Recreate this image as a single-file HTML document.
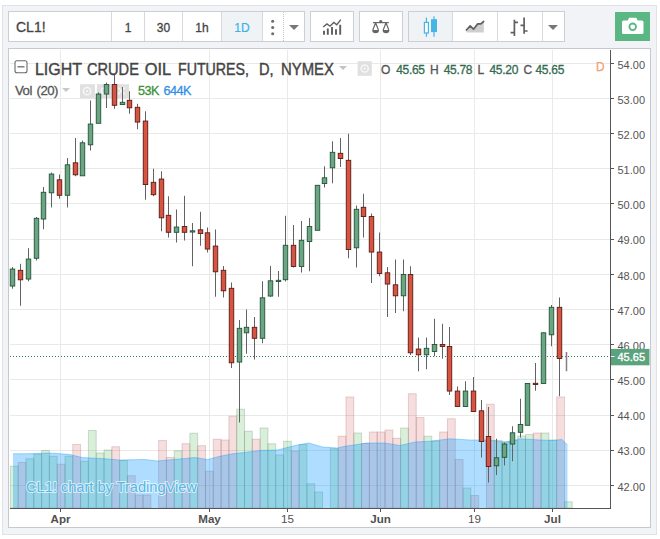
<!DOCTYPE html>
<html><head><meta charset="utf-8"><title>CL1! chart</title>
<style>
html,body{margin:0;padding:0;background:#fff;}
body{width:660px;height:539px;position:relative;overflow:hidden;font-family:"Liberation Sans",Arial,sans-serif;color:#4a4a4a;}
.outer{position:absolute;left:2px;top:5px;width:655px;height:529.6px;background:#f1f3f7;border:1px solid #dfe2e8;box-sizing:border-box;}
.box{position:absolute;box-sizing:border-box;background:#fff;border:1px solid #cdced3;}
.pane{position:absolute;left:8px;top:48px;width:643px;height:480px;box-sizing:border-box;background:#fff;border:1px solid #c8c9ce;}
.chart{position:absolute;left:0;top:0;}
.btn{position:absolute;top:12px;height:29px;line-height:32px;text-align:center;font-size:12px;color:#444;-webkit-text-stroke:0.3px #444}
.sep{position:absolute;top:12px;height:29px;width:1px;background:#d5d8de;}
.act{background:#f0f3f6;}
.ic{position:absolute;}
.tri{position:absolute;width:0;height:0;border-left:5px solid transparent;border-right:5px solid transparent;border-top:5.5px solid #777;}
.t{position:absolute;white-space:nowrap;}
.ttl{position:absolute;white-space:nowrap;transform-origin:0 0;top:59.3px;font-size:16.4px;line-height:20px;color:#444;-webkit-text-stroke:0.42px #444}
.lg{position:absolute;white-space:nowrap;top:61.5px;font-size:12px;line-height:16px;color:#555;letter-spacing:-0.25px;-webkit-text-stroke:0.32px #555}
.lg.v{color:#356c50;-webkit-text-stroke:0.32px #356c50;letter-spacing:-0.3px}
</style></head><body>
<div class="outer"></div>
<!-- toolbar -->
<div class="box" style="left:8px;top:11px;width:297px;height:31px"></div>
<div class="t" style="left:16px;top:18px;font-size:14px;line-height:18px;color:#444;-webkit-text-stroke:0.3px #444">CL1!</div>
<div class="sep" style="left:111px"></div>
<div class="btn" style="left:112px;width:32px">1</div>
<div class="sep" style="left:144px"></div>
<div class="btn" style="left:145px;width:37px">30</div>
<div class="sep" style="left:182px"></div>
<div class="btn" style="left:183px;width:38px">1h</div>
<div class="sep" style="left:221px"></div>
<div class="btn act" style="left:222px;width:40px;color:#3fb1e3;-webkit-text-stroke:0.2px #3fb1e3">1D</div>
<div class="sep" style="left:262px"></div>
<svg class="ic" style="left:269px;top:18px" width="8" height="20" viewBox="0 0 8 20"><g fill="#6e6e6e"><circle cx="3.7" cy="3.3" r="1.55"/><circle cx="3.7" cy="9.5" r="1.55"/><circle cx="3.7" cy="15.8" r="1.55"/></g></svg>
<div class="sep" style="left:283px;background:none;border-left:1px dotted #c4c7cd"></div>
<div class="tri" style="left:288.7px;top:25px"></div>
<div class="box" style="left:310px;top:11px;width:44px;height:31px"></div>
<svg class="ic" style="left:322px;top:18px" width="22" height="19" viewBox="322 18 22 19"><g stroke="#5e5e5e" stroke-width="1.9" fill="none"><path d="M324,34.8V30.7M327.8,34.8V28.5M332,34.8V27M336,34.8V29.2M340.2,34.8V24.7"/><path stroke-width="1.4" d="M323.2,27 L327,24 L330,26.2 L333.8,22.4 L336.8,24.7 L340.8,19.6"/></g></svg>
<div class="box" style="left:359px;top:11px;width:44px;height:31px"></div>
<svg class="ic" style="left:370px;top:18px" width="22" height="19" viewBox="370 18 22 19"><g stroke="#666" stroke-width="1.2" fill="none"><path d="M373,22.6H388.8"/><path d="M375.6,22.8 L372.8,30 M375.6,22.8 L378.4,30 M386,22.8 L383.2,30 M386,22.8 L388.8,30"/><circle cx="380.8" cy="21.6" r="1" fill="#666"/></g><path fill="#666" d="M372.2,30 h6.8 a3.4,3.2 0 0 1 -6.8,0Z M382.6,30 h6.8 a3.4,3.2 0 0 1 -6.8,0Z"/></svg>
<div class="box" style="left:408px;top:11px;width:157px;height:31px"></div>
<div class="btn act" style="left:409px;width:43px"></div>
<svg class="ic" style="left:420px;top:14px" width="22" height="25" viewBox="420 14 22 25"><g stroke="#45b5e6" stroke-width="1.2"><path d="M426.4,17.4V36.8M434,16.3V36.8"/><rect x="424.4" y="22.4" width="4" height="10.6" fill="#fff"/><rect x="431.6" y="19.8" width="4.8" height="11.7" fill="#45b5e6"/></g></svg>
<div class="sep" style="left:452px"></div>
<svg class="ic" style="left:463px;top:18px" width="24" height="17" viewBox="463 18 24 17"><path fill="#cfcfcf" d="M466.4,30 L470.2,25.9 L473.5,29.2 L477.7,23.9 L480.8,23.9 L483.8,21.4 V32.6 H466.4Z"/><path fill="none" stroke="#606060" stroke-width="1.7" stroke-linejoin="round" stroke-linecap="round" d="M466.4,30 L470.2,25.9 L473.5,29.2 L477.7,23.9 L480.8,23.9 L483.6,21.5"/></svg>
<div class="sep" style="left:497px"></div>
<svg class="ic" style="left:508px;top:15px" width="22" height="23" viewBox="508 15 22 23"><g stroke="#606060" stroke-width="1.7" fill="none"><path d="M514.4,19.8V36M510.6,32.6H514.4M514.4,22.4H518M524.1,17.4V33.8M520.5,25.4H524.1M524.1,31H527.6"/></g></svg>
<div class="sep" style="left:542px"></div>
<div class="tri" style="left:547.5px;top:25px"></div>
<div style="position:absolute;left:615px;top:12px;width:35px;height:29px;background:#5ab682"></div>
<svg class="ic" style="left:620px;top:15px" width="26" height="22" viewBox="620 15 26 22"><path fill="#fff" d="M623.5,20.4 h4.2 l1.4,-2.6 h7.2 l1.4,2.6 h4.3 a1.5,1.5 0 0 1 1.5,1.5 v10.6 a1.5,1.5 0 0 1 -1.5,1.5 h-18.5 a1.5,1.5 0 0 1 -1.5,-1.5 v-10.6 a1.5,1.5 0 0 1 1.5,-1.5Z"/><circle cx="632.7" cy="26.8" r="3.3" fill="#fff" stroke="#5ab682" stroke-width="1.8"/></svg>
<!-- chart pane -->
<div class="pane"></div>
<svg class="chart" width="660" height="539" viewBox="0 0 660 539">
<g stroke="#e9e9e9" stroke-width="1" shape-rendering="crispEdges">
<line x1="9.5" y1="485.5" x2="610.5" y2="485.5"/>
<line x1="9.5" y1="450.5" x2="610.5" y2="450.5"/>
<line x1="9.5" y1="415.5" x2="610.5" y2="415.5"/>
<line x1="9.5" y1="379.5" x2="610.5" y2="379.5"/>
<line x1="9.5" y1="344.5" x2="610.5" y2="344.5"/>
<line x1="9.5" y1="309.5" x2="610.5" y2="309.5"/>
<line x1="9.5" y1="274.5" x2="610.5" y2="274.5"/>
<line x1="9.5" y1="239.5" x2="610.5" y2="239.5"/>
<line x1="9.5" y1="203.5" x2="610.5" y2="203.5"/>
<line x1="9.5" y1="168.5" x2="610.5" y2="168.5"/>
<line x1="9.5" y1="133.5" x2="610.5" y2="133.5"/>
<line x1="9.5" y1="98.5" x2="610.5" y2="98.5"/>
<line x1="9.5" y1="63.5" x2="610.5" y2="63.5"/>
<line x1="60.5" y1="49.5" x2="60.5" y2="508.0"/>
<line x1="209.5" y1="49.5" x2="209.5" y2="508.0"/>
<line x1="287.5" y1="49.5" x2="287.5" y2="508.0"/>
<line x1="380.5" y1="49.5" x2="380.5" y2="508.0"/>
<line x1="474.5" y1="49.5" x2="474.5" y2="508.0"/>
<line x1="552.5" y1="49.5" x2="552.5" y2="508.0"/>
</g>
<g fill="#e0e0e0">
<rect x="80" y="84.2" width="15" height="14"/>
<rect x="97" y="84.2" width="15" height="14"/>
<rect x="114" y="84.2" width="15" height="14"/>
<rect x="357.6" y="61.2" width="14.2" height="14.6"/>
</g>
<g fill="none" stroke="#f7f7f7" stroke-width="1.5"><circle cx="87" cy="91.2" r="3.6"/><circle cx="87" cy="91.2" r="1.1" fill="#f7f7f7" stroke="none"/></g>
<g fill="none" stroke="#f7f7f7" stroke-width="1.5"><circle cx="364.7" cy="68.5" r="3.6"/><circle cx="364.7" cy="68.5" r="1.1" fill="#f7f7f7" stroke="none"/></g>
<g stroke="#f6f6f6" stroke-width="1.6" fill="none"><path d="M118,87.5 l7,7 M125,87.5 l-7,7"/><circle cx="104.5" cy="91" r="3"/></g>
<g stroke-width="1">
<rect x="10.35" y="466.25" width="7.80" height="41.75" fill="rgba(80,180,80,0.22)" stroke="rgba(90,140,100,0.28)"/>
<rect x="18.16" y="462.50" width="7.80" height="45.50" fill="rgba(205,60,60,0.17)" stroke="rgba(165,105,105,0.28)"/>
<rect x="25.96" y="458.75" width="7.80" height="49.25" fill="rgba(80,180,80,0.22)" stroke="rgba(90,140,100,0.28)"/>
<rect x="33.77" y="454.25" width="7.80" height="53.75" fill="rgba(80,180,80,0.22)" stroke="rgba(90,140,100,0.28)"/>
<rect x="41.57" y="450.50" width="7.80" height="57.50" fill="rgba(80,180,80,0.22)" stroke="rgba(90,140,100,0.28)"/>
<rect x="49.38" y="456.25" width="7.80" height="51.75" fill="rgba(80,180,80,0.22)" stroke="rgba(90,140,100,0.28)"/>
<rect x="57.18" y="464.25" width="7.80" height="43.75" fill="rgba(205,60,60,0.17)" stroke="rgba(165,105,105,0.28)"/>
<rect x="64.98" y="456.25" width="7.80" height="51.75" fill="rgba(80,180,80,0.22)" stroke="rgba(90,140,100,0.28)"/>
<rect x="72.79" y="444.50" width="7.80" height="63.50" fill="rgba(205,60,60,0.17)" stroke="rgba(165,105,105,0.28)"/>
<rect x="80.59" y="461.25" width="7.80" height="46.75" fill="rgba(80,180,80,0.22)" stroke="rgba(90,140,100,0.28)"/>
<rect x="88.40" y="430.50" width="7.80" height="77.50" fill="rgba(80,180,80,0.22)" stroke="rgba(90,140,100,0.28)"/>
<rect x="96.20" y="453.00" width="7.80" height="55.00" fill="rgba(80,180,80,0.22)" stroke="rgba(90,140,100,0.28)"/>
<rect x="104.01" y="450.00" width="7.80" height="58.00" fill="rgba(80,180,80,0.22)" stroke="rgba(90,140,100,0.28)"/>
<rect x="111.81" y="446.75" width="7.80" height="61.25" fill="rgba(205,60,60,0.17)" stroke="rgba(165,105,105,0.28)"/>
<rect x="119.62" y="460.50" width="7.80" height="47.50" fill="rgba(80,180,80,0.22)" stroke="rgba(90,140,100,0.28)"/>
<rect x="127.42" y="475.75" width="7.80" height="32.25" fill="rgba(205,60,60,0.17)" stroke="rgba(165,105,105,0.28)"/>
<rect x="135.23" y="495.00" width="7.80" height="13.00" fill="rgba(205,60,60,0.17)" stroke="rgba(165,105,105,0.28)"/>
<rect x="143.03" y="495.00" width="7.80" height="13.00" fill="rgba(205,60,60,0.17)" stroke="rgba(165,105,105,0.28)"/>
<rect x="158.64" y="440.50" width="7.80" height="67.50" fill="rgba(205,60,60,0.17)" stroke="rgba(165,105,105,0.28)"/>
<rect x="166.45" y="457.50" width="7.80" height="50.50" fill="rgba(205,60,60,0.17)" stroke="rgba(165,105,105,0.28)"/>
<rect x="174.25" y="450.75" width="7.80" height="57.25" fill="rgba(80,180,80,0.22)" stroke="rgba(90,140,100,0.28)"/>
<rect x="182.06" y="443.75" width="7.80" height="64.25" fill="rgba(205,60,60,0.17)" stroke="rgba(165,105,105,0.28)"/>
<rect x="189.86" y="433.25" width="7.80" height="74.75" fill="rgba(80,180,80,0.22)" stroke="rgba(90,140,100,0.28)"/>
<rect x="197.67" y="445.75" width="7.80" height="62.25" fill="rgba(205,60,60,0.17)" stroke="rgba(165,105,105,0.28)"/>
<rect x="205.47" y="471.25" width="7.80" height="36.75" fill="rgba(205,60,60,0.17)" stroke="rgba(165,105,105,0.28)"/>
<rect x="213.28" y="439.25" width="7.80" height="68.75" fill="rgba(205,60,60,0.17)" stroke="rgba(165,105,105,0.28)"/>
<rect x="221.08" y="440.00" width="7.80" height="68.00" fill="rgba(205,60,60,0.17)" stroke="rgba(165,105,105,0.28)"/>
<rect x="228.89" y="416.25" width="7.80" height="91.75" fill="rgba(205,60,60,0.17)" stroke="rgba(165,105,105,0.28)"/>
<rect x="236.69" y="409.25" width="7.80" height="98.75" fill="rgba(80,180,80,0.22)" stroke="rgba(90,140,100,0.28)"/>
<rect x="244.50" y="431.25" width="7.80" height="76.75" fill="rgba(80,180,80,0.22)" stroke="rgba(90,140,100,0.28)"/>
<rect x="252.30" y="439.25" width="7.80" height="68.75" fill="rgba(205,60,60,0.17)" stroke="rgba(165,105,105,0.28)"/>
<rect x="260.11" y="428.00" width="7.80" height="80.00" fill="rgba(80,180,80,0.22)" stroke="rgba(90,140,100,0.28)"/>
<rect x="267.92" y="443.75" width="7.80" height="64.25" fill="rgba(80,180,80,0.22)" stroke="rgba(90,140,100,0.28)"/>
<rect x="275.72" y="455.00" width="7.80" height="53.00" fill="rgba(80,180,80,0.22)" stroke="rgba(90,140,100,0.28)"/>
<rect x="283.53" y="441.25" width="7.80" height="66.75" fill="rgba(80,180,80,0.22)" stroke="rgba(90,140,100,0.28)"/>
<rect x="291.33" y="451.00" width="7.80" height="57.00" fill="rgba(205,60,60,0.17)" stroke="rgba(165,105,105,0.28)"/>
<rect x="299.13" y="444.50" width="7.80" height="63.50" fill="rgba(80,180,80,0.22)" stroke="rgba(90,140,100,0.28)"/>
<rect x="306.94" y="483.75" width="7.80" height="24.25" fill="rgba(80,180,80,0.22)" stroke="rgba(90,140,100,0.28)"/>
<rect x="314.75" y="492.00" width="7.80" height="16.00" fill="rgba(80,180,80,0.22)" stroke="rgba(90,140,100,0.28)"/>
<rect x="330.36" y="448.75" width="7.80" height="59.25" fill="rgba(80,180,80,0.22)" stroke="rgba(90,140,100,0.28)"/>
<rect x="338.16" y="436.25" width="7.80" height="71.75" fill="rgba(205,60,60,0.17)" stroke="rgba(165,105,105,0.28)"/>
<rect x="345.97" y="397.00" width="7.80" height="111.00" fill="rgba(205,60,60,0.17)" stroke="rgba(165,105,105,0.28)"/>
<rect x="353.77" y="433.00" width="7.80" height="75.00" fill="rgba(80,180,80,0.22)" stroke="rgba(90,140,100,0.28)"/>
<rect x="361.57" y="443.50" width="7.80" height="64.50" fill="rgba(205,60,60,0.17)" stroke="rgba(165,105,105,0.28)"/>
<rect x="369.38" y="432.00" width="7.80" height="76.00" fill="rgba(205,60,60,0.17)" stroke="rgba(165,105,105,0.28)"/>
<rect x="377.19" y="432.00" width="7.80" height="76.00" fill="rgba(205,60,60,0.17)" stroke="rgba(165,105,105,0.28)"/>
<rect x="384.99" y="430.00" width="7.80" height="78.00" fill="rgba(205,60,60,0.17)" stroke="rgba(165,105,105,0.28)"/>
<rect x="392.80" y="438.25" width="7.80" height="69.75" fill="rgba(205,60,60,0.17)" stroke="rgba(165,105,105,0.28)"/>
<rect x="400.60" y="428.00" width="7.80" height="80.00" fill="rgba(80,180,80,0.22)" stroke="rgba(90,140,100,0.28)"/>
<rect x="408.41" y="393.75" width="7.80" height="114.25" fill="rgba(205,60,60,0.17)" stroke="rgba(165,105,105,0.28)"/>
<rect x="416.21" y="417.50" width="7.80" height="90.50" fill="rgba(205,60,60,0.17)" stroke="rgba(165,105,105,0.28)"/>
<rect x="424.01" y="436.25" width="7.80" height="71.75" fill="rgba(80,180,80,0.22)" stroke="rgba(90,140,100,0.28)"/>
<rect x="431.82" y="441.00" width="7.80" height="67.00" fill="rgba(80,180,80,0.22)" stroke="rgba(90,140,100,0.28)"/>
<rect x="439.62" y="432.00" width="7.80" height="76.00" fill="rgba(205,60,60,0.17)" stroke="rgba(165,105,105,0.28)"/>
<rect x="447.43" y="418.75" width="7.80" height="89.25" fill="rgba(205,60,60,0.17)" stroke="rgba(165,105,105,0.28)"/>
<rect x="455.24" y="459.50" width="7.80" height="48.50" fill="rgba(205,60,60,0.17)" stroke="rgba(165,105,105,0.28)"/>
<rect x="463.04" y="488.00" width="7.80" height="20.00" fill="rgba(80,180,80,0.22)" stroke="rgba(90,140,100,0.28)"/>
<rect x="470.85" y="495.50" width="7.80" height="12.50" fill="rgba(205,60,60,0.17)" stroke="rgba(165,105,105,0.28)"/>
<rect x="486.45" y="404.25" width="7.80" height="103.75" fill="rgba(205,60,60,0.17)" stroke="rgba(165,105,105,0.28)"/>
<rect x="494.26" y="440.50" width="7.80" height="67.50" fill="rgba(80,180,80,0.22)" stroke="rgba(90,140,100,0.28)"/>
<rect x="502.06" y="441.50" width="7.80" height="66.50" fill="rgba(80,180,80,0.22)" stroke="rgba(90,140,100,0.28)"/>
<rect x="509.87" y="440.50" width="7.80" height="67.50" fill="rgba(80,180,80,0.22)" stroke="rgba(90,140,100,0.28)"/>
<rect x="517.68" y="436.00" width="7.80" height="72.00" fill="rgba(80,180,80,0.22)" stroke="rgba(90,140,100,0.28)"/>
<rect x="525.48" y="434.50" width="7.80" height="73.50" fill="rgba(80,180,80,0.22)" stroke="rgba(90,140,100,0.28)"/>
<rect x="533.28" y="433.00" width="7.80" height="75.00" fill="rgba(205,60,60,0.17)" stroke="rgba(165,105,105,0.28)"/>
<rect x="541.09" y="433.00" width="7.80" height="75.00" fill="rgba(80,180,80,0.22)" stroke="rgba(90,140,100,0.28)"/>
<rect x="548.89" y="440.00" width="7.80" height="68.00" fill="rgba(80,180,80,0.22)" stroke="rgba(90,140,100,0.28)"/>
<rect x="556.70" y="397.00" width="7.80" height="111.00" fill="rgba(205,60,60,0.17)" stroke="rgba(165,105,105,0.28)"/>
<rect x="564.50" y="501.75" width="7.80" height="6.25" fill="rgba(80,180,80,0.22)" stroke="rgba(90,140,100,0.28)"/>
</g>
<polygon points="13,453.75 25,453.75 50,453 70,454.5 82,457.5 105,458.75 120,460 145,459.5 157,461 182,458.75 195,457.5 207.5,459.5 220,456.25 232.5,453.75 245,452.5 260,450.5 277.5,450 295,445.5 308.75,443 322.5,447 337.5,448 345,446.25 367,443 385,443 400,445.5 415,442 430,441.25 450,438.75 470,440 490,440 505,442.5 520,438.75 540,440 552,440.5 562,439.5 567.5,445 567.5,508.0 13,508.0" fill="rgba(4,150,255,0.32)"/>
<polyline points="13,453.75 25,453.75 50,453 70,454.5 82,457.5 105,458.75 120,460 145,459.5 157,461 182,458.75 195,457.5 207.5,459.5 220,456.25 232.5,453.75 245,452.5 260,450.5 277.5,450 295,445.5 308.75,443 322.5,447 337.5,448 345,446.25 367,443 385,443 400,445.5 415,442 430,441.25 450,438.75 470,440 490,440 505,442.5 520,438.75 540,440 552,440.5 562,439.5 567.5,445" fill="none" stroke="rgba(4,150,255,0.35)" stroke-width="1"/>
<line x1="9.5" y1="356.5" x2="610.5" y2="356.5" stroke="#2f7d55" stroke-width="1" stroke-dasharray="1.2,1.8" shape-rendering="crispEdges"/>
<line x1="12.50" y1="267.0" x2="12.50" y2="288.75" stroke="#626264" stroke-width="1"/>
<rect x="10.25" y="269.05" width="4.5" height="17.00" fill="#6ba583" stroke="#225437" stroke-width="0.9"/>
<line x1="20.50" y1="263.75" x2="20.50" y2="305.75" stroke="#626264" stroke-width="1"/>
<rect x="18.25" y="270.30" width="4.5" height="9.50" fill="#d75442" stroke="#5b1a13" stroke-width="0.9"/>
<line x1="28.50" y1="248.25" x2="28.50" y2="281.25" stroke="#626264" stroke-width="1"/>
<rect x="26.25" y="259.05" width="4.5" height="20.00" fill="#6ba583" stroke="#225437" stroke-width="0.9"/>
<line x1="36.50" y1="217.0" x2="36.50" y2="260.5" stroke="#626264" stroke-width="1"/>
<rect x="34.25" y="218.30" width="4.5" height="40.00" fill="#6ba583" stroke="#225437" stroke-width="0.9"/>
<line x1="43.50" y1="187.0" x2="43.50" y2="229.25" stroke="#626264" stroke-width="1"/>
<rect x="41.25" y="192.30" width="4.5" height="26.75" fill="#6ba583" stroke="#225437" stroke-width="0.9"/>
<line x1="51.50" y1="172.5" x2="51.50" y2="207.5" stroke="#626264" stroke-width="1"/>
<rect x="49.25" y="174.05" width="4.5" height="18.75" fill="#6ba583" stroke="#225437" stroke-width="0.9"/>
<line x1="59.50" y1="174.5" x2="59.50" y2="198.75" stroke="#626264" stroke-width="1"/>
<rect x="57.25" y="179.80" width="4.5" height="15.50" fill="#d75442" stroke="#5b1a13" stroke-width="0.9"/>
<line x1="67.50" y1="158.0" x2="67.50" y2="207.5" stroke="#626264" stroke-width="1"/>
<rect x="65.25" y="164.80" width="4.5" height="30.50" fill="#6ba583" stroke="#225437" stroke-width="0.9"/>
<line x1="75.50" y1="138.0" x2="75.50" y2="176.25" stroke="#626264" stroke-width="1"/>
<rect x="73.25" y="162.80" width="4.5" height="12.00" fill="#d75442" stroke="#5b1a13" stroke-width="0.9"/>
<line x1="82.50" y1="140.5" x2="82.50" y2="175.5" stroke="#626264" stroke-width="1"/>
<rect x="80.25" y="142.80" width="4.5" height="33.00" fill="#6ba583" stroke="#225437" stroke-width="0.9"/>
<line x1="90.50" y1="100.5" x2="90.50" y2="150.5" stroke="#626264" stroke-width="1"/>
<rect x="88.25" y="124.05" width="4.5" height="20.75" fill="#6ba583" stroke="#225437" stroke-width="0.9"/>
<line x1="98.50" y1="92.5" x2="98.50" y2="123.0" stroke="#626264" stroke-width="1"/>
<rect x="96.25" y="94.05" width="4.5" height="29.25" fill="#6ba583" stroke="#225437" stroke-width="0.9"/>
<line x1="106.50" y1="82.5" x2="106.50" y2="108.0" stroke="#626264" stroke-width="1"/>
<rect x="104.25" y="84.55" width="4.5" height="9.50" fill="#6ba583" stroke="#225437" stroke-width="0.9"/>
<line x1="114.50" y1="75.0" x2="114.50" y2="108.75" stroke="#626264" stroke-width="1"/>
<rect x="112.25" y="84.55" width="4.5" height="20.75" fill="#d75442" stroke="#5b1a13" stroke-width="0.9"/>
<line x1="122.50" y1="87.0" x2="122.50" y2="104.25" stroke="#626264" stroke-width="1"/>
<rect x="120.25" y="102.30" width="4.5" height="2.25" fill="#6ba583" stroke="#225437" stroke-width="0.9"/>
<line x1="129.50" y1="91.25" x2="129.50" y2="113.75" stroke="#626264" stroke-width="1"/>
<rect x="127.25" y="100.30" width="4.5" height="7.50" fill="#d75442" stroke="#5b1a13" stroke-width="0.9"/>
<line x1="137.50" y1="103.75" x2="137.50" y2="129.25" stroke="#626264" stroke-width="1"/>
<rect x="135.25" y="107.30" width="4.5" height="14.75" fill="#d75442" stroke="#5b1a13" stroke-width="0.9"/>
<line x1="145.50" y1="111.25" x2="145.50" y2="199.75" stroke="#626264" stroke-width="1"/>
<rect x="143.25" y="121.05" width="4.5" height="63.50" fill="#d75442" stroke="#5b1a13" stroke-width="0.9"/>
<line x1="153.50" y1="168.75" x2="153.50" y2="196.25" stroke="#626264" stroke-width="1"/>
<rect x="151.25" y="182.30" width="4.5" height="12.40" fill="#d75442" stroke="#5b1a13" stroke-width="0.9"/>
<line x1="161.50" y1="171.25" x2="161.50" y2="231.25" stroke="#626264" stroke-width="1"/>
<rect x="159.25" y="179.05" width="4.5" height="38.75" fill="#d75442" stroke="#5b1a13" stroke-width="0.9"/>
<line x1="168.50" y1="196.25" x2="168.50" y2="237.5" stroke="#626264" stroke-width="1"/>
<rect x="166.25" y="215.30" width="4.5" height="17.00" fill="#d75442" stroke="#5b1a13" stroke-width="0.9"/>
<line x1="176.50" y1="209.5" x2="176.50" y2="242.5" stroke="#626264" stroke-width="1"/>
<rect x="174.25" y="227.05" width="4.5" height="5.25" fill="#6ba583" stroke="#225437" stroke-width="0.9"/>
<line x1="184.50" y1="195.75" x2="184.50" y2="240.5" stroke="#626264" stroke-width="1"/>
<rect x="182.25" y="226.55" width="4.5" height="5.75" fill="#d75442" stroke="#5b1a13" stroke-width="0.9"/>
<line x1="192.50" y1="223.0" x2="192.50" y2="266.25" stroke="#626264" stroke-width="1"/>
<rect x="190.25" y="230.80" width="4.5" height="1.25" fill="#6ba583" stroke="#225437" stroke-width="0.9"/>
<line x1="200.50" y1="211.75" x2="200.50" y2="245.75" stroke="#626264" stroke-width="1"/>
<rect x="198.25" y="229.80" width="4.5" height="3.75" fill="#d75442" stroke="#5b1a13" stroke-width="0.9"/>
<line x1="207.50" y1="227.5" x2="207.50" y2="252.5" stroke="#626264" stroke-width="1"/>
<rect x="205.25" y="232.80" width="4.5" height="16.25" fill="#d75442" stroke="#5b1a13" stroke-width="0.9"/>
<line x1="215.50" y1="229.5" x2="215.50" y2="296.75" stroke="#626264" stroke-width="1"/>
<rect x="213.25" y="246.05" width="4.5" height="25.75" fill="#d75442" stroke="#5b1a13" stroke-width="0.9"/>
<line x1="223.50" y1="266.0" x2="223.50" y2="297.5" stroke="#626264" stroke-width="1"/>
<rect x="221.25" y="270.30" width="4.5" height="20.50" fill="#d75442" stroke="#5b1a13" stroke-width="0.9"/>
<line x1="231.50" y1="282.5" x2="231.50" y2="368.0" stroke="#626264" stroke-width="1"/>
<rect x="229.25" y="288.30" width="4.5" height="74.50" fill="#d75442" stroke="#5b1a13" stroke-width="0.9"/>
<line x1="239.50" y1="320.0" x2="239.50" y2="422.5" stroke="#626264" stroke-width="1"/>
<rect x="237.25" y="328.30" width="4.5" height="33.75" fill="#6ba583" stroke="#225437" stroke-width="0.9"/>
<line x1="246.50" y1="309.5" x2="246.50" y2="353.75" stroke="#626264" stroke-width="1"/>
<rect x="244.25" y="327.30" width="4.5" height="5.50" fill="#6ba583" stroke="#225437" stroke-width="0.9"/>
<line x1="254.50" y1="317.0" x2="254.50" y2="359.5" stroke="#626264" stroke-width="1"/>
<rect x="252.25" y="327.30" width="4.5" height="11.00" fill="#d75442" stroke="#5b1a13" stroke-width="0.9"/>
<line x1="262.50" y1="281.25" x2="262.50" y2="343.25" stroke="#626264" stroke-width="1"/>
<rect x="260.25" y="297.80" width="4.5" height="40.50" fill="#6ba583" stroke="#225437" stroke-width="0.9"/>
<line x1="270.50" y1="266.0" x2="270.50" y2="296.75" stroke="#626264" stroke-width="1"/>
<rect x="268.25" y="280.80" width="4.5" height="15.25" fill="#6ba583" stroke="#225437" stroke-width="0.9"/>
<line x1="278.50" y1="271.0" x2="278.50" y2="296.75" stroke="#626264" stroke-width="1"/>
<rect x="276.25" y="280.30" width="4.5" height="1.25" fill="#6ba583" stroke="#225437" stroke-width="0.9"/>
<line x1="285.50" y1="215.75" x2="285.50" y2="281.5" stroke="#626264" stroke-width="1"/>
<rect x="283.25" y="245.30" width="4.5" height="34.40" fill="#6ba583" stroke="#225437" stroke-width="0.9"/>
<line x1="293.50" y1="225.0" x2="293.50" y2="267.5" stroke="#626264" stroke-width="1"/>
<rect x="291.25" y="245.30" width="4.5" height="21.25" fill="#d75442" stroke="#5b1a13" stroke-width="0.9"/>
<line x1="301.50" y1="221.0" x2="301.50" y2="272.5" stroke="#626264" stroke-width="1"/>
<rect x="299.25" y="240.30" width="4.5" height="26.25" fill="#6ba583" stroke="#225437" stroke-width="0.9"/>
<line x1="309.50" y1="218.0" x2="309.50" y2="271.25" stroke="#626264" stroke-width="1"/>
<rect x="307.25" y="226.55" width="4.5" height="15.00" fill="#6ba583" stroke="#225437" stroke-width="0.9"/>
<line x1="317.50" y1="185.0" x2="317.50" y2="230.0" stroke="#626264" stroke-width="1"/>
<rect x="315.25" y="185.30" width="4.5" height="45.00" fill="#6ba583" stroke="#225437" stroke-width="0.9"/>
<line x1="324.50" y1="166.25" x2="324.50" y2="187.5" stroke="#626264" stroke-width="1"/>
<rect x="322.25" y="177.80" width="4.5" height="5.75" fill="#6ba583" stroke="#225437" stroke-width="0.9"/>
<line x1="332.50" y1="141.25" x2="332.50" y2="183.25" stroke="#626264" stroke-width="1"/>
<rect x="330.25" y="152.30" width="4.5" height="15.50" fill="#6ba583" stroke="#225437" stroke-width="0.9"/>
<line x1="340.50" y1="138.0" x2="340.50" y2="167.0" stroke="#626264" stroke-width="1"/>
<rect x="338.25" y="153.30" width="4.5" height="5.25" fill="#d75442" stroke="#5b1a13" stroke-width="0.9"/>
<line x1="348.50" y1="133.75" x2="348.50" y2="258.25" stroke="#626264" stroke-width="1"/>
<rect x="346.25" y="160.30" width="4.5" height="89.25" fill="#d75442" stroke="#5b1a13" stroke-width="0.9"/>
<line x1="356.50" y1="205.5" x2="356.50" y2="267.5" stroke="#626264" stroke-width="1"/>
<rect x="354.25" y="209.30" width="4.5" height="38.50" fill="#6ba583" stroke="#225437" stroke-width="0.9"/>
<line x1="363.50" y1="193.75" x2="363.50" y2="237.5" stroke="#626264" stroke-width="1"/>
<rect x="361.25" y="207.30" width="4.5" height="9.25" fill="#d75442" stroke="#5b1a13" stroke-width="0.9"/>
<line x1="371.50" y1="213.5" x2="371.50" y2="283.0" stroke="#626264" stroke-width="1"/>
<rect x="369.25" y="216.55" width="4.5" height="35.50" fill="#d75442" stroke="#5b1a13" stroke-width="0.9"/>
<line x1="379.50" y1="232.5" x2="379.50" y2="276.25" stroke="#626264" stroke-width="1"/>
<rect x="377.25" y="252.05" width="4.5" height="21.50" fill="#d75442" stroke="#5b1a13" stroke-width="0.9"/>
<line x1="387.50" y1="267.0" x2="387.50" y2="317.0" stroke="#626264" stroke-width="1"/>
<rect x="385.25" y="272.80" width="4.5" height="11.25" fill="#d75442" stroke="#5b1a13" stroke-width="0.9"/>
<line x1="395.50" y1="259.5" x2="395.50" y2="313.0" stroke="#626264" stroke-width="1"/>
<rect x="393.25" y="284.80" width="4.5" height="11.00" fill="#d75442" stroke="#5b1a13" stroke-width="0.9"/>
<line x1="403.50" y1="259.5" x2="403.50" y2="311.25" stroke="#626264" stroke-width="1"/>
<rect x="401.25" y="274.55" width="4.5" height="21.25" fill="#6ba583" stroke="#225437" stroke-width="0.9"/>
<line x1="410.50" y1="266.25" x2="410.50" y2="355.0" stroke="#626264" stroke-width="1"/>
<rect x="408.25" y="274.55" width="4.5" height="78.25" fill="#d75442" stroke="#5b1a13" stroke-width="0.9"/>
<line x1="418.50" y1="337.5" x2="418.50" y2="371.25" stroke="#626264" stroke-width="1"/>
<rect x="416.25" y="349.05" width="4.5" height="5.75" fill="#d75442" stroke="#5b1a13" stroke-width="0.9"/>
<line x1="426.50" y1="337.5" x2="426.50" y2="369.25" stroke="#626264" stroke-width="1"/>
<rect x="424.25" y="348.30" width="4.5" height="6.50" fill="#6ba583" stroke="#225437" stroke-width="0.9"/>
<line x1="434.50" y1="318.75" x2="434.50" y2="356.25" stroke="#626264" stroke-width="1"/>
<rect x="432.25" y="344.55" width="4.5" height="7.00" fill="#6ba583" stroke="#225437" stroke-width="0.9"/>
<line x1="442.50" y1="323.75" x2="442.50" y2="358.75" stroke="#626264" stroke-width="1"/>
<rect x="440.25" y="344.55" width="4.5" height="2.00" fill="#d75442" stroke="#5b1a13" stroke-width="0.9"/>
<line x1="449.50" y1="327.0" x2="449.50" y2="395.0" stroke="#626264" stroke-width="1"/>
<rect x="447.25" y="346.55" width="4.5" height="44.50" fill="#d75442" stroke="#5b1a13" stroke-width="0.9"/>
<line x1="457.50" y1="386.5" x2="457.50" y2="406.25" stroke="#626264" stroke-width="1"/>
<rect x="455.25" y="391.05" width="4.5" height="15.50" fill="#d75442" stroke="#5b1a13" stroke-width="0.9"/>
<line x1="465.50" y1="381.25" x2="465.50" y2="406.25" stroke="#626264" stroke-width="1"/>
<rect x="463.25" y="391.05" width="4.5" height="15.50" fill="#6ba583" stroke="#225437" stroke-width="0.9"/>
<line x1="473.50" y1="377.0" x2="473.50" y2="411.25" stroke="#626264" stroke-width="1"/>
<rect x="471.25" y="391.05" width="4.5" height="20.50" fill="#d75442" stroke="#5b1a13" stroke-width="0.9"/>
<line x1="481.50" y1="400.0" x2="481.50" y2="457.5" stroke="#626264" stroke-width="1"/>
<rect x="479.25" y="410.80" width="4.5" height="30.75" fill="#d75442" stroke="#5b1a13" stroke-width="0.9"/>
<line x1="488.50" y1="407.0" x2="488.50" y2="482.5" stroke="#626264" stroke-width="1"/>
<rect x="486.25" y="436.55" width="4.5" height="30.00" fill="#d75442" stroke="#5b1a13" stroke-width="0.9"/>
<line x1="496.50" y1="438.75" x2="496.50" y2="475.0" stroke="#626264" stroke-width="1"/>
<rect x="494.25" y="457.80" width="4.5" height="8.00" fill="#6ba583" stroke="#225437" stroke-width="0.9"/>
<line x1="504.50" y1="442.5" x2="504.50" y2="465.5" stroke="#626264" stroke-width="1"/>
<rect x="502.25" y="444.05" width="4.5" height="13.25" fill="#6ba583" stroke="#225437" stroke-width="0.9"/>
<line x1="512.50" y1="426.25" x2="512.50" y2="461.25" stroke="#626264" stroke-width="1"/>
<rect x="510.25" y="432.80" width="4.5" height="11.25" fill="#6ba583" stroke="#225437" stroke-width="0.9"/>
<line x1="520.50" y1="398.75" x2="520.50" y2="437.5" stroke="#626264" stroke-width="1"/>
<rect x="518.25" y="424.55" width="4.5" height="7.75" fill="#6ba583" stroke="#225437" stroke-width="0.9"/>
<line x1="527.50" y1="383.25" x2="527.50" y2="425.0" stroke="#626264" stroke-width="1"/>
<rect x="525.25" y="383.55" width="4.5" height="41.75" fill="#6ba583" stroke="#225437" stroke-width="0.9"/>
<line x1="535.50" y1="363.0" x2="535.50" y2="390.75" stroke="#626264" stroke-width="1"/>
<rect x="533.25" y="383.30" width="4.5" height="1.25" fill="#d75442" stroke="#5b1a13" stroke-width="0.9"/>
<line x1="543.50" y1="332.5" x2="543.50" y2="383.25" stroke="#626264" stroke-width="1"/>
<rect x="541.25" y="332.80" width="4.5" height="50.75" fill="#6ba583" stroke="#225437" stroke-width="0.9"/>
<line x1="551.50" y1="305.0" x2="551.50" y2="346.25" stroke="#626264" stroke-width="1"/>
<rect x="549.25" y="307.30" width="4.5" height="27.50" fill="#6ba583" stroke="#225437" stroke-width="0.9"/>
<line x1="559.50" y1="297.5" x2="559.50" y2="396.25" stroke="#626264" stroke-width="1"/>
<rect x="557.25" y="307.30" width="4.5" height="51.25" fill="#d75442" stroke="#5b1a13" stroke-width="0.9"/>
<line x1="566.50" y1="352.0" x2="566.50" y2="371.25" stroke="#808082" stroke-width="1.5"/>
<g stroke="#555" stroke-width="1" shape-rendering="crispEdges">
<line x1="9.5" y1="508.5" x2="611.0" y2="508.5"/>
<line x1="610.5" y1="49.5" x2="610.5" y2="509.0"/>
<line x1="610.5" y1="485.5" x2="614.0" y2="485.5"/>
<line x1="610.5" y1="450.5" x2="614.0" y2="450.5"/>
<line x1="610.5" y1="415.5" x2="614.0" y2="415.5"/>
<line x1="610.5" y1="379.5" x2="614.0" y2="379.5"/>
<line x1="610.5" y1="344.5" x2="614.0" y2="344.5"/>
<line x1="610.5" y1="309.5" x2="614.0" y2="309.5"/>
<line x1="610.5" y1="274.5" x2="614.0" y2="274.5"/>
<line x1="610.5" y1="239.5" x2="614.0" y2="239.5"/>
<line x1="610.5" y1="203.5" x2="614.0" y2="203.5"/>
<line x1="610.5" y1="168.5" x2="614.0" y2="168.5"/>
<line x1="610.5" y1="133.5" x2="614.0" y2="133.5"/>
<line x1="610.5" y1="98.5" x2="614.0" y2="98.5"/>
<line x1="610.5" y1="63.5" x2="614.0" y2="63.5"/>
<line x1="60.5" y1="508.0" x2="60.5" y2="512.0"/>
<line x1="209.5" y1="508.0" x2="209.5" y2="512.0"/>
<line x1="287.5" y1="508.0" x2="287.5" y2="512.0"/>
<line x1="380.5" y1="508.0" x2="380.5" y2="512.0"/>
<line x1="474.5" y1="508.0" x2="474.5" y2="512.0"/>
<line x1="552.5" y1="508.0" x2="552.5" y2="512.0"/>
</g>
<g font-family="Liberation Sans, Arial, sans-serif" font-size="11" fill="#555">
<text x="617.5" y="490.5">42.00</text>
<text x="617.5" y="455.4">43.00</text>
<text x="617.5" y="420.2">44.00</text>
<text x="617.5" y="385.0">45.00</text>
<text x="617.5" y="349.9">46.00</text>
<text x="617.5" y="314.7">47.00</text>
<text x="617.5" y="279.5">48.00</text>
<text x="617.5" y="244.4">49.00</text>
<text x="617.5" y="209.2">50.00</text>
<text x="617.5" y="174.0">51.00</text>
<text x="617.5" y="138.8">52.00</text>
<text x="617.5" y="103.7">53.00</text>
<text x="617.5" y="68.5">54.00</text>
</g>
<rect x="611.0" y="348.9" width="38.5" height="16.4" fill="#5ba37d"/>
<line x1="611.0" y1="356.5" x2="614.5" y2="356.5" stroke="#fff" stroke-width="1"/>
<text x="617.5" y="360.7" font-family="Liberation Sans, Arial, sans-serif" font-size="11" fill="#fff" stroke="#fff" stroke-width="0.35">45.65</text>
<g font-family="Liberation Sans, Arial, sans-serif" font-size="11.6" fill="#505050" text-anchor="middle">
<text x="60.5" y="523" font-weight="bold">Apr</text>
<text x="209.5" y="523" font-weight="bold">May</text>
<text x="287.5" y="523">15</text>
<text x="380.5" y="523" font-weight="bold">Jun</text>
<text x="474.5" y="523">19</text>
<text x="552.5" y="523" font-weight="bold">Jul</text>
</g>
<text x="26" y="492" font-family="Liberation Sans, Arial, sans-serif" font-size="14.6" fill="#58b7e7" stroke="#fff" stroke-width="2" stroke-opacity="0.65" paint-order="stroke" stroke-linejoin="round">CL1! chart by TradingView</text>
</svg>
<!-- legend -->
<svg class="ic" style="left:14px;top:60.3px" width="14" height="14" viewBox="0 0 14 14"><rect x="1" y="0.8" width="12" height="12" rx="2" fill="#fff" stroke="#6a6a6a" stroke-width="1.1"/><path d="M3.5,6.8H10.5" stroke="#6a6a6a" stroke-width="1.3"/></svg>
<div class="ttl" style="left:34.53px;transform:scaleX(0.973)">LIGHT</div><div class="ttl" style="left:87.11px;transform:scaleX(0.89)">CRUDE</div><div class="ttl" style="left:144.75px;transform:scaleX(1.0)">OIL</div><div class="ttl" style="left:177.88px;transform:scaleX(0.866)">FUTURES,</div><div class="ttl" style="left:259.11px;transform:scaleX(0.893)">D,</div><div class="ttl" style="left:281.09px;transform:scaleX(0.908)">NYMEX</div>
<div class="tri" style="left:339px;top:66.3px;border-top-color:#c4c4c4;border-left-width:4px;border-right-width:4px;border-top-width:4.2px"></div>
<div class="lg" style="left:381px">O</div><div class="lg v" style="left:396.2px">45.65</div>
<div class="lg" style="left:430px">H</div><div class="lg v" style="left:443.7px">45.78</div>
<div class="lg" style="left:477.5px">L</div><div class="lg v" style="left:489.5px">45.20</div>
<div class="lg" style="left:523.5px">C</div><div class="lg v" style="left:535.5px">45.65</div>
<div class="t" style="left:596.3px;top:59.3px;font-size:13.2px;line-height:16px;color:#f0a070;-webkit-text-stroke:0.25px #f0a070;transform:scaleX(0.9);transform-origin:0 0">D</div>
<div class="t" style="left:15px;top:82.6px;font-size:13.2px;line-height:16px;color:#555;letter-spacing:-0.5px;word-spacing:1.5px;-webkit-text-stroke:0.3px #555">Vol (20)</div>
<div class="tri" style="left:62px;top:88px;border-top-color:#c8c8c8;border-left-width:4px;border-right-width:4px;border-top-width:4.5px"></div>
<div class="t" style="left:138px;top:82.6px;font-size:12.6px;line-height:16px;color:#3d8f3d;letter-spacing:-0.5px;-webkit-text-stroke:0.3px #3d8f3d">53K</div>
<div class="t" style="left:163.5px;top:82.6px;font-size:12.6px;line-height:16px;color:#2f8fe6;letter-spacing:-0.5px;-webkit-text-stroke:0.3px #2f8fe6">644K</div>
</body></html>
